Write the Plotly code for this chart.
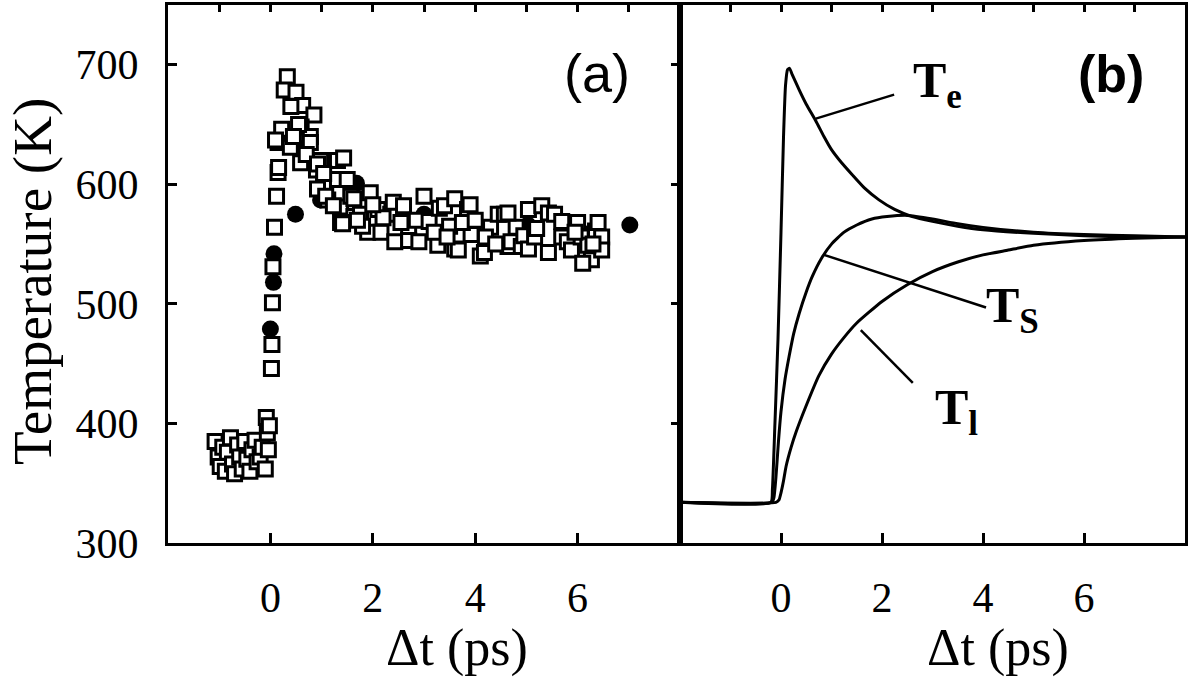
import plotly.graph_objects as go

# ---------------- data: panel (a) ----------------
sq_t = [-1.08, -1.02, -0.98, -0.93, -0.88, -0.84, -0.78, -0.74, -0.70, -0.64, -0.60, -0.55, -0.50,
        -0.46, -0.40, -0.36, -0.30, -0.26, -0.20, -0.16, -0.10, -0.08, -0.06, -0.04, -0.02,
        0.02, 0.03, 0.04, 0.05, 0.08, 0.12, 0.15, 0.15, 0.22, 0.16, 0.10,
        0.33, 0.27, 0.50, 0.63, 0.85, 0.40, 0.60, 0.78, 0.39, 0.78, 0.59, 0.98, 0.55, 0.45, 0.70, 0.90,
        1.04, 1.31, 1.43, 1.31, 1.50, 1.12, 1.37, 1.57, 1.63, 1.37, 0.92, 1.04, 0.92, 1.08, 1.23, 1.41,
        1.63, 1.76, 1.95, 1.90, 1.80, 1.70,
        2.10, 2.16, 2.35, 2.40, 2.43, 2.60, 2.70, 2.70, 2.85, 2.90, 3.00, 2.20, 2.55, 2.00,
        3.10, 3.27, 3.30, 3.40, 3.60, 3.60, 3.67, 3.85, 3.90, 3.92, 3.50, 3.75, 3.20, 3.45,
        4.10, 4.18, 4.30, 4.45, 4.57, 4.64, 4.70, 4.80, 4.90, 4.64, 4.20, 4.40, 4.95, 4.00,
        5.04, 5.04, 5.16, 5.30, 5.43, 5.43, 5.55, 5.69, 5.69, 5.80, 5.88, 6.00, 6.07, 6.27, 6.35,
        6.40, 6.47, 6.47, 6.20, 6.10, 5.20, 5.95, 6.30]
sq_T = [385, 372, 364, 380, 360, 376, 388, 366, 358, 382, 372, 362, 385,
        370, 360, 378, 386, 368, 372, 380, 362, 405, 392, 378, 398,
        446, 466, 501, 531, 564, 590, 610, 635, 646, 614, 637,
        690, 679, 677, 666, 658, 665, 648, 640, 631, 635, 618, 620, 650, 640, 625, 612,
        601, 620, 622, 604, 604, 587, 581, 590, 573, 568, 617, 609, 596, 590, 582, 567,
        588, 575, 593, 560, 565, 570,
        579, 560, 575, 585, 552, 582, 561, 553, 570, 552, 590, 572, 568, 583,
        569, 549, 580, 582, 588, 546, 545, 579, 583, 558, 565, 568, 560, 556,
        540, 543, 564, 575, 575, 548, 552, 564, 548, 576, 556, 550, 557, 570,
        579, 546, 556, 582, 576, 543, 575, 569, 556, 552, 545, 568, 556, 537, 561,
        568, 556, 545, 549, 534, 563, 560, 550]

dot_t = [-1.02, 0.0, 0.06, 0.07, 0.49, 0.65, 0.98, 1.68, 3.0, 3.98, 5.03, 6.1, 7.02]
dot_T = [383, 479, 518, 542, 575, 630, 587, 601, 575, 566, 566, 559, 566]

# ---------------- data: panel (b) ----------------
te_t = [-2, -0.2, -0.17, -0.12, -0.06, 0.0, 0.05, 0.09, 0.13, 0.17, 0.22, 0.36, 0.5, 0.69, 0.85,
        1.0, 1.2, 1.41, 1.65, 1.94, 2.25, 2.6, 3.0, 3.5, 4.0, 5.0, 6.0, 7.0, 8.0]
te_T = [334, 334, 345, 400, 470, 560, 640, 683, 696, 697, 692, 679, 667, 653, 640,
        629, 618, 608, 597, 587, 579, 573, 569, 565, 562, 559, 557, 556, 556]

ts_t = [-2, -0.18, -0.14, -0.1, -0.05, 0.0, 0.08, 0.16, 0.25, 0.36, 0.5, 0.62, 0.8, 1.0, 1.25,
        1.5, 1.8, 2.1, 2.5, 3.0, 3.5, 4.0, 5.0, 6.0, 7.0, 8.0]
ts_T = [334, 334, 338, 355, 385, 410, 437, 456, 475, 492, 510, 523, 538, 550, 560,
        566, 571, 573, 574, 571, 567, 564, 560, 558, 557, 556]

tl_t = [-2, -0.1, -0.04, 0.0, 0.05, 0.1, 0.2, 0.3, 0.5, 0.75, 1.0, 1.25, 1.5, 2.0, 2.5, 3.0,
        3.5, 4.0, 4.5, 5.0, 6.0, 7.0, 8.0]
tl_T = [334, 334, 336, 342, 352, 364, 380, 393, 415, 440, 458, 472, 484, 502, 516, 527,
        535, 541, 545, 549, 553, 555, 556]

x_ticks = [0, 2, 4, 6]
x_top_ticks = [-1, 0, 1, 2, 3, 4, 5, 6, 7]
y_ticks = [300, 400, 500, 600, 700]

SERIF = "Liberation Serif, Times New Roman, serif"
SANS = "Liberation Sans, Arial, sans-serif"

fig = go.Figure()

# circles on the base axis, open squares on the overlay axis (same range) so they sit above
fig.add_trace(go.Scatter(x=dot_t, y=dot_T, mode="markers", xaxis="x", yaxis="y",
                         marker=dict(symbol="circle", size=17, color="black",
                                     line=dict(width=0)), showlegend=False))
fig.add_trace(go.Scatter(x=sq_t, y=sq_T, mode="markers", xaxis="x3", yaxis="y",
                         marker=dict(symbol="square", size=14, color="white",
                                     line=dict(width=3, color="black")), showlegend=False))

for tt, TT, xa in [(te_t, te_T, "x4"), (ts_t, ts_T, "x2"), (tl_t, tl_T, "x2")]:
    fig.add_trace(go.Scatter(x=tt, y=TT, mode="lines", xaxis=xa, yaxis="y2",
                             line=dict(color="black", width=3, shape="spline", smoothing=0.5),
                             showlegend=False))

tickfont = dict(family=SERIF, size=42, color="black")
# base axes: top side, a tick at every picosecond, no labels
top_x = dict(range=[-2, 8], tickmode="array", tickvals=x_top_ticks, ticks="inside",
             ticklen=7, tickwidth=2.5, tickcolor="black", side="top", showticklabels=False,
             showgrid=False, zeroline=False, showline=True, linewidth=3, linecolor="black",
             mirror=False)
# overlay axes: bottom side, labelled major ticks
bot_x = dict(range=[-2, 8], tickmode="array", tickvals=x_ticks, ticks="inside", ticklen=10,
             tickwidth=3, tickcolor="black", side="bottom", showline=True, linewidth=3,
             linecolor="black", showgrid=False, zeroline=False, tickfont=tickfont,
             ticklabelstandoff=16)

split = (680 - 168) / (1185 - 168)

fig.update_layout(
    width=1194, height=681,
    margin=dict(l=168, r=9, t=5, b=138),
    paper_bgcolor="white", plot_bgcolor="white",
    xaxis=dict(domain=[0, split], anchor="y", **top_x),
    xaxis2=dict(domain=[split, 1], anchor="y2", **top_x),
    xaxis3=dict(overlaying="x", anchor="y", **bot_x),
    xaxis4=dict(overlaying="x2", anchor="y2", **bot_x),
    yaxis=dict(range=[300, 750], tickvals=y_ticks, ticks="inside", ticklen=9, tickwidth=3,
               tickcolor="black", showline=True, linewidth=3, linecolor="black",
               mirror="ticks", showgrid=False, zeroline=False, tickfont=tickfont,
               ticklabelstandoff=18, anchor="x"),
    yaxis2=dict(range=[300, 750], showticklabels=False, ticks="", showline=True,
                linewidth=3, linecolor="black", mirror=True, showgrid=False,
                zeroline=False, anchor="x2"),
)

ann = []
# axis titles
ann.append(dict(text="Temperature (K)", xref="paper", yref="paper", x=(32 - 168) / 1017,
                y=(543 - 282) / 538, textangle=-90, showarrow=False,
                font=dict(family=SERIF, size=55, color="black"),
                xanchor="center", yanchor="middle"))
ann.append(dict(text="Δt (ps)", xref="x", yref="paper", x=3.65, y=(543 - 648) / 538,
                showarrow=False, font=dict(family=SERIF, size=52, color="black"),
                xanchor="center", yanchor="middle"))
ann.append(dict(text="Δt (ps)", xref="x2", yref="paper", x=4.3, y=(543 - 648) / 538,
                showarrow=False, font=dict(family=SERIF, size=52, color="black"),
                xanchor="center", yanchor="middle"))
# panel labels
ann.append(dict(text="(a)", xref="x", yref="y", x=6.37, y=693, showarrow=False,
                font=dict(family=SANS, size=54, color="black"),
                xanchor="center", yanchor="middle"))
ann.append(dict(text="<b>(b)</b>", xref="x2", yref="y2", x=6.53, y=692, showarrow=False,
                font=dict(family=SANS, size=52, color="black"),
                xanchor="center", yanchor="middle"))
# curve labels
lab_font = dict(family=SERIF, size=50, color="black")
ann.append(dict(text="<b>T<sub>e</sub></b>", xref="x2", yref="y2", x=2.57, y=684,
                showarrow=False, font=lab_font, xanchor="left", yanchor="middle"))
ann.append(dict(text="<b>T<sub>S</sub></b>", xref="x2", yref="y2", x=4.02, y=496,
                showarrow=False, font=lab_font, xanchor="left", yanchor="middle"))
ann.append(dict(text="<b>T<sub>l</sub></b>", xref="x2", yref="y2", x=3.01, y=410,
                showarrow=False, font=lab_font, xanchor="left", yanchor="middle"))
fig.update_layout(annotations=ann)

# leader lines
shapes = []
for (x0, y0, x1, y1) in [(0.69, 655, 2.24, 675), (0.85, 541, 4.06, 497), (1.58, 478, 2.61, 434)]:
    shapes.append(dict(type="line", xref="x2", yref="y2", x0=x0, y0=y0, x1=x1, y1=y1,
                       line=dict(color="black", width=2.5)))
fig.update_layout(shapes=shapes)

fig.write_html("out.html", config={"displayModeBar": False},
               post_script="document.body.style.margin='0';document.body.style.overflow='hidden';")
